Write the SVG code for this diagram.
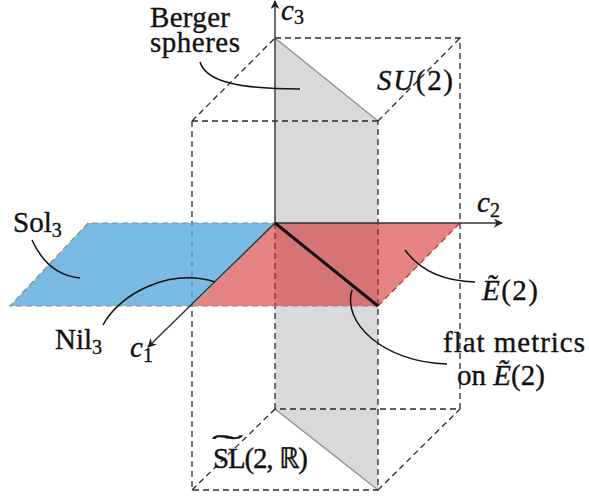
<svg xmlns="http://www.w3.org/2000/svg" width="589" height="499" viewBox="0 0 589 499">
<style>
.dash{fill:none;stroke:#2a2a2a;stroke-width:1.3;stroke-dasharray:6 4}
.edge{fill:none;stroke:#8a8a8a;stroke-width:1.2;stroke-dasharray:6 4}
.axis{fill:none;stroke:#333;stroke-width:1.4}
.lead{fill:none;stroke:#111;stroke-width:1.5}
.i{font-style:italic}
.s{font-size:20px}
</style>
<defs>
<marker id="arr" viewBox="0 0 10 10" refX="9" refY="5" markerWidth="9" markerHeight="9" markerUnits="userSpaceOnUse" orient="auto">
<path d="M0,0 L10,5 L0,10 L3,5 Z" fill="#222"/>
</marker>
</defs>
<g id="gray-plane">
<polygon points="275,38 378,121 378,490 275,409" fill="#d9d9dc"/>
<line x1="275" y1="38" x2="378" y2="121" stroke="#8f8f8f" stroke-width="1.3"/>
<line x1="275" y1="409" x2="378" y2="490" stroke="#8f8f8f" stroke-width="1.3"/>
</g>
<g id="box">
<path class="dash" d="M275,38 H460 V409 H275 M192,121 H378 M192,121 V490 H378 V121 M192,121 L275,38 M378,121 L460,38 M192,490 L275,409 M378,490 L460,409 M275,223 V409"/>
</g>
<g id="sol3-plane">
<polygon points="10,306 88,223 275,223 192,306" fill="#56a9db" fill-opacity="0.8"/>
<path class="edge" d="M192,306 H10 L88,223 H275"/>
</g>
<g id="e2-plane">
<polygon points="192,306 275,223 460,223 378,306" fill="#d42a2a" fill-opacity="0.58"/>
<path class="edge" d="M378,306 H192" stroke="#b06060"/>
<path d="M378,306 L460,223" fill="none" stroke="#a33" stroke-width="1.2" stroke-dasharray="6 4"/>
</g>
<g id="connectors">
<line class="axis" x1="275" y1="223" x2="275" y2="1" marker-end="url(#arr)"/>
<line class="axis" x1="275" y1="223" x2="502" y2="223" marker-end="url(#arr)"/>
<line class="axis" x1="275" y1="223" x2="148" y2="347" stroke-width="1.2" marker-end="url(#arr)"/>
<line x1="275" y1="223" x2="378" y2="306" stroke="#111" stroke-width="3"/>
<path class="lead" d="M200,62 C206,82 240,89 300,89"/>
<path class="lead" d="M32,240 C42,262 58,276 80,278"/>
<path class="lead" d="M103,325 C120,293 170,268 215,282"/>
<path class="lead" d="M405,250 C418,268 440,281 475,282"/>
<path class="lead" d="M352,290 C342,322 382,362 447,364"/>
</g>
<g id="labels" font-family="Liberation Serif, Times New Roman, serif" font-size="29" fill="#111" stroke="#111" stroke-width="0.35">
<text x="150" y="27" textLength="80">Berger</text>
<text x="150" y="52" textLength="90">spheres</text>
<text x="281" y="20"><tspan class="i">c</tspan><tspan class="s" dy="4">3</tspan></text>
<text x="377" y="90" textLength="76"><tspan class="i">SU</tspan>(2)</text>
<text x="477" y="212"><tspan class="i">c</tspan><tspan class="s" dy="5">2</tspan></text>
<text x="13" y="232">Sol<tspan class="s" dy="5">3</tspan></text>
<text x="55" y="349">Nil<tspan class="s" dy="5">3</tspan></text>
<text x="130" y="357"><tspan class="i">c</tspan><tspan class="s" dy="5">1</tspan></text>
<text x="213" y="468" textLength="95">SL(2, ℝ)</text>
<text transform="translate(212,455) scale(3.2,1)">˜</text>
<text x="482" y="300" textLength="56"><tspan class="i">Ẽ</tspan>(2)</text>
<text x="443" y="352" textLength="142">flat metrics</text>
<text x="457" y="385">on <tspan class="i">Ẽ</tspan>(2)</text>
</g>
</svg>
